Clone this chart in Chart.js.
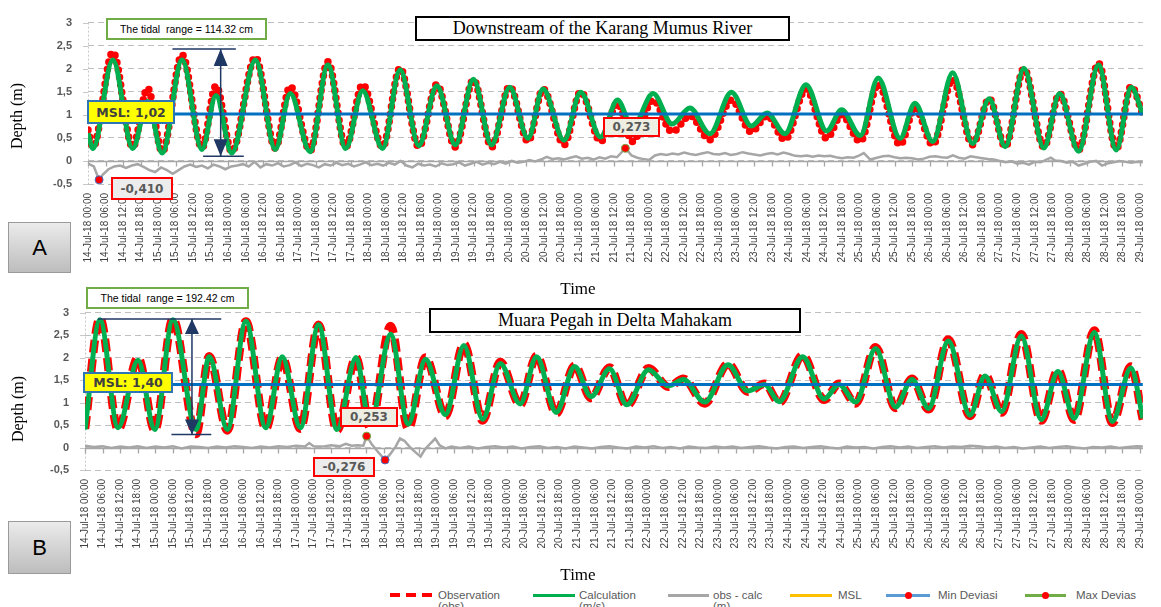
<!DOCTYPE html>
<html><head><meta charset="utf-8">
<script src="https://cdn.jsdelivr.net/npm/chart.js@4.4.1/dist/chart.umd.min.js"></script>
<style>
html,body{margin:0;padding:0;background:#fff;width:1161px;height:607px;overflow:hidden;position:relative;font-family:"Liberation Sans",Arial,sans-serif}
canvas{position:absolute;left:0}
#cA{top:0}
#cB{top:290px}
.box{position:absolute;box-sizing:border-box;display:flex;align-items:center;justify-content:center;white-space:pre;z-index:5}
.ttl{border:2px solid #000;background:#fff;font-family:"Liberation Serif",serif;font-size:18px;color:#000}
.tid{border:2px solid #70ad47;background:#fff;font-size:10.5px;color:#000}
.msl{border:2px solid #2e75b6;background:#ffff00;font-family:"DejaVu Sans",sans-serif;font-weight:bold;font-size:12.5px;color:#404040}
.val{border:2px solid #ff0000;background:#eeeee2;font-family:"DejaVu Sans",sans-serif;font-weight:bold;font-size:12px;color:#595959}
.pan{border:1px solid #9a9a9a;background:linear-gradient(#ebebeb,#bdbdbd);font-size:22px;color:#000}
.axt{position:absolute;font-family:"Liberation Serif",serif;color:#000;white-space:nowrap;z-index:4}
.lg{position:absolute;font-size:11.5px;line-height:11px;color:#595959;white-space:nowrap;top:590px}
.sw{position:absolute;top:594px;height:3px}
.dot{position:absolute;width:7px;height:7px;border-radius:50%;background:#ff0000;top:-2px}
</style>
</head>
<body>
<canvas id="cA" width="1161" height="300"></canvas>
<canvas id="cB" width="1161" height="296"></canvas>

<div class="box ttl" style="left:415px;top:16px;width:375px;height:25px">Downstream of the Karang Mumus River</div>
<div class="box tid" style="left:106px;top:18px;width:161px;height:22px">The tidal  range = 114.32 cm</div>
<div class="box msl" style="left:87px;top:100px;width:88px;height:24px">MSL: 1,02</div>
<div class="box val" style="left:111px;top:177px;width:62px;height:23px;background:#ececec">-0,410</div>
<div class="box val" style="left:603px;top:117px;width:57px;height:20px">0,273</div>
<div class="box pan" style="left:8px;top:222px;width:63px;height:51px">A</div>
<div class="axt" style="left:17px;top:116px;font-size:16px;transform:translate(-50%,-50%) rotate(-90deg)">Depth (m)</div>
<div class="axt" style="left:578px;top:289px;font-size:17px;transform:translate(-50%,-50%)">Time</div>

<div class="box ttl" style="left:429px;top:308px;width:372px;height:25px">Muara Pegah in Delta Mahakam</div>
<div class="box tid" style="left:86px;top:287px;width:163px;height:22px">The tidal  range = 192.42 cm</div>
<div class="box msl" style="left:83px;top:372px;width:90px;height:21px">MSL: 1,40</div>
<div class="box val" style="left:340px;top:407px;width:58px;height:20px">0,253</div>
<div class="box val" style="left:313px;top:457px;width:62px;height:20px;background:#ececec">-0,276</div>
<div class="box pan" style="left:8px;top:521px;width:63px;height:53px">B</div>
<div class="axt" style="left:18px;top:409px;font-size:16px;transform:translate(-50%,-50%) rotate(-90deg)">Depth (m)</div>
<div class="axt" style="left:578px;top:575px;font-size:17px;transform:translate(-50%,-50%)">Time</div>

<div class="sw" style="left:390px;width:43px;height:4px;top:593px;background:repeating-linear-gradient(90deg,#ff0000 0 10px,transparent 10px 16px)"></div>
<div class="lg" style="left:438px">Observation<br>(obs)</div>
<div class="sw" style="left:533px;width:42px;background:#00b050"></div>
<div class="lg" style="left:579px">Calculation<br>(m/s)</div>
<div class="sw" style="left:668px;width:41px;background:#a6a6a6"></div>
<div class="lg" style="left:713px">obs - calc<br>(m)</div>
<div class="sw" style="left:790px;width:42px;background:#ffc000"></div>
<div class="lg" style="left:838px">MSL</div>
<div class="sw" style="left:886px;width:44px;background:#5b9bd5"><div class="dot" style="left:19px"></div></div>
<div class="lg" style="left:938px">Min Deviasi</div>
<div class="sw" style="left:1025px;width:41px;background:#70ad47"><div class="dot" style="left:17px"></div></div>
<div class="lg" style="left:1076px">Max Devias</div>

<script>
// ---------- tick labels (every 6 hours) ----------
const tickLabels = [
'14-Jul-18 00:00','14-Jul-18 06:00','14-Jul-18 12:00','14-Jul-18 18:00',
'15-Jul-18 00:00','15-Jul-18 06:00','15-Jul-18 12:00','15-Jul-18 18:00',
'16-Jul-18 00:00','16-Jul-18 06:00','16-Jul-18 12:00','16-Jul-18 18:00',
'17-Jul-18 00:00','17-Jul-18 06:00','17-Jul-18 12:00','17-Jul-18 18:00',
'18-Jul-18 00:00','18-Jul-18 06:00','18-Jul-18 12:00','18-Jul-18 18:00',
'19-Jul-18 00:00','19-Jul-18 06:00','19-Jul-18 12:00','19-Jul-18 18:00',
'20-Jul-18 00:00','20-Jul-18 06:00','20-Jul-18 12:00','20-Jul-18 18:00',
'21-Jul-18 00:00','21-Jul-18 06:00','21-Jul-18 12:00','21-Jul-18 18:00',
'22-Jul-18 00:00','22-Jul-18 06:00','22-Jul-18 12:00','22-Jul-18 18:00',
'23-Jul-18 00:00','23-Jul-18 06:00','23-Jul-18 12:00','23-Jul-18 18:00',
'24-Jul-18 00:00','24-Jul-18 06:00','24-Jul-18 12:00','24-Jul-18 18:00',
'25-Jul-18 00:00','25-Jul-18 06:00','25-Jul-18 12:00','25-Jul-18 18:00',
'26-Jul-18 00:00','26-Jul-18 06:00','26-Jul-18 12:00','26-Jul-18 18:00',
'27-Jul-18 00:00','27-Jul-18 06:00','27-Jul-18 12:00','27-Jul-18 18:00',
'28-Jul-18 00:00','28-Jul-18 06:00','28-Jul-18 12:00','28-Jul-18 18:00',
'29-Jul-18 00:00'];

// ---------- Panel A: Downstream of the Karang Mumus River (hours from 14-Jul 00:00) ----------
const tideA_t = [0,1.7,8.5,15.3,20.4,25.4,32.2,39.0,43.8,49.2,57.3,64.1,69.2,76.0,82.1,88.2,94.0,100.8,106.8,113.2,119.4,125.7,131.9,138.1,144.3,150.6,155.7,162.9,168.6,175.4,181.2,186.3,193.4,199.9,206.0,212.8,220.2,227.0,232.4,238.5,245.7,252.8,257.9,264.3,270.4,277.9,283.0,289.1,295.9,302.7,308.4,313.9,320.3,327.1,332.5,339.0,345.8,351.9,357.0,361];
const calcA = [0.6,0.27,2.19,0.27,1.29,0.17,2.19,0.25,1.42,0.17,2.19,0.25,1.46,0.2,2.08,0.27,1.52,0.27,1.98,0.33,1.63,0.35,1.77,0.35,1.6,0.49,1.56,0.45,1.49,0.52,1.32,0.73,1.46,0.8,1.15,0.59,1.49,0.76,1.04,0.59,1.65,0.65,1.11,0.55,1.8,0.49,1.25,0.42,1.91,0.38,1.35,0.31,2.01,0.28,1.46,0.21,2.08,0.24,1.6,1.0];
const obsA = [0.67,0.3,2.36,0.3,1.58,0.2,2.3,0.28,1.63,0.2,2.25,0.28,1.62,0.22,2.15,0.3,1.66,0.3,2.02,0.3,1.66,0.3,1.76,0.3,1.62,0.42,1.56,0.35,1.5,0.42,1.25,0.42,1.32,0.63,0.98,0.46,1.32,0.63,0.98,0.46,1.56,0.49,1.0,0.42,1.67,0.35,1.15,0.35,1.77,0.35,1.35,0.31,2.0,0.3,1.46,0.24,2.12,0.26,1.62,1.0];
const diffA_t = [0,2,3.8,5,7,9,11,13,15,17,19,21,23,25,27,29,31,33,35,37,39,41,43,45,47,49,51,53,55,57,59,61,63,65,67,69,71,73,75,77,79,81,83,85,87,89,91,93,95,97,99,101,103,105,107,109,111,113,115,117,119,121,123,125,127,129,131,133,135,137,139,141,143,145,147,149,151,153,155,157,159,161,163,165,167,169,171,173,175,177,179,181,183.9,186,188,190,192,194,196,198,200,202,204,206,208,210,212,214,216,218,220,222,224,226,228,230,232,234,236,238,240,242,244,246,248,250,252,254,256,258,260,262,264,265.5,267.7,270,272,274,276,278,280,282,284,286,288,290,292,294,296,298,300,302,304,306,308,310,312,314,316,318,320,322,324,326,328,329.5,331,333,335,337,339,341,343,345,347,349,351,353,355,357,359,361];
const diffA = [-0.06,-0.12,-0.41,-0.3,-0.18,-0.12,-0.1,-0.15,-0.1,-0.07,-0.13,-0.2,-0.24,-0.14,-0.2,-0.28,-0.2,-0.12,-0.08,-0.13,-0.1,-0.16,-0.08,-0.12,-0.18,-0.12,-0.1,-0.07,-0.12,-0.02,-0.14,-0.07,-0.1,-0.05,-0.12,-0.09,-0.03,-0.11,-0.06,-0.09,-0.14,-0.07,-0.1,-0.04,-0.09,-0.06,-0.12,-0.08,-0.03,-0.09,-0.06,-0.1,-0.04,-0.08,0.0,-0.1,-0.14,-0.06,-0.1,-0.08,-0.12,-0.05,-0.09,-0.07,-0.03,-0.1,-0.06,-0.02,-0.08,-0.04,-0.07,-0.02,-0.06,0.0,-0.04,-0.02,0.02,-0.01,0.03,0.09,0.04,0.06,0.03,0.07,0.1,0.05,0.07,0.03,0.08,0.05,0.1,0.08,0.273,0.12,0.07,0.04,0.02,0.12,0.15,0.13,0.16,0.14,0.18,0.15,0.13,0.16,0.19,0.15,0.14,0.17,0.13,0.15,0.19,0.16,0.14,0.12,0.15,0.17,0.14,0.18,0.15,0.11,0.1,0.12,0.09,0.12,0.1,0.11,0.08,0.06,0.08,0.07,0.12,0.17,0.03,0.07,0.1,0.11,0.08,0.06,0.07,0.06,0.03,0.05,0.09,0.1,0.08,0.07,0.12,0.07,0.05,0.1,0.08,0.06,0.04,0.03,0.0,-0.03,-0.01,-0.06,-0.04,-0.08,-0.02,-0.03,0.03,0.07,0.01,0.0,-0.04,-0.02,-0.1,-0.06,-0.02,0.0,-0.1,-0.05,-0.03,0.0,-0.02,-0.04,-0.02,-0.03];
const mslA = [1.02, 1.02];
const minA_t = [3.8], minA = [-0.41];
const maxA_t = [183.9], maxA = [0.273];

// ---------- Panel B: Muara Pegah in Delta Mahakam ----------
const tideB_t = [0,5.1,11.3,18.1,23.8,30.0,37.9,42.4,48.6,54.9,61.7,67.3,73.5,79.7,86.0,92.5,97.3,104.3,110.3,116.2,123.0,129.3,135.7,141.7,148.5,154.1,160.8,167.1,172.7,179.0,184.9,192.3,199.1,204.2,211.5,219.4,226.2,231.9,236.9,244.9,252.2,257.3,263.0,269.8,276.6,282.2,287.9,294.6,302.0,307.1,312.8,319.5,326.3,332.0,337.6,344.4,350.6,356.9,361];
const calcB = [0.40,2.84,0.44,1.94,0.40,2.84,0.40,2.02,0.40,2.81,0.44,2.02,0.44,2.73,0.40,2.0,0.51,2.52,0.52,1.96,0.73,2.27,0.63,1.87,0.97,2.02,0.78,1.80,1.13,1.75,0.95,1.73,1.37,1.51,1.01,1.84,1.26,1.40,1.02,2.02,1.08,1.40,1.01,2.20,0.90,1.51,0.87,2.37,0.72,1.59,0.80,2.48,0.62,1.69,0.65,2.56,0.58,1.77,0.65];
const obsB = [0.42,2.87,0.40,2.0,0.38,2.86,0.30,2.03,0.38,2.8,0.42,2.0,0.42,2.73,0.38,2.0,0.44,2.70,0.42,2.0,0.7,2.3,0.6,1.9,0.95,2.04,0.76,1.82,1.1,1.78,0.93,1.76,1.35,1.53,0.98,1.86,1.24,1.42,1.0,2.05,1.06,1.42,0.98,2.23,0.88,1.53,0.85,2.4,0.7,1.62,0.78,2.52,0.6,1.72,0.62,2.6,0.55,1.8,0.62];
const diffB_t = [0,3,6,9,12,15,18,21,24,27,30,33,36,39,42,45,48,51,54,57,60,63,66,69,72,75,76.5,78,81,84,87,89,91,93,95,96.1,98,100,102.4,104,106,107.5,109,111,113,114.5,116,118,119.5,121,123,125,128,131,134,137,140,143,146,149,152,155,158,161,164,167,170,173,176,179,182,185,188,191,194,197,200,203,206,209,212,215,218,221,224,227,230,233,236,239,242,245,248,251,254,257,260,263,266,269,272,275,278,281,284,287,290,293,296,299,302,305,308,311,314,317,320,323,326,329,332,335,338,341,344,347,350,353,356,359,361];
const diffB = [0.04,0.01,0.03,-0.01,0.02,0.0,0.03,-0.01,0.02,0.0,0.03,-0.02,0.02,0.01,-0.01,0.02,0.0,0.03,0.01,-0.01,0.02,0.0,0.03,0.01,0.04,0.02,0.1,0.03,0.02,0.05,0.03,0.08,0.04,0.05,0.04,0.253,0.06,-0.1,-0.276,-0.16,0.02,0.2,0.15,0.0,-0.12,-0.2,-0.04,0.1,0.2,0.05,-0.02,0.02,-0.01,0.02,-0.02,0.01,0.03,0.0,0.02,-0.02,0.01,0.03,-0.01,0.01,-0.02,0.02,0.0,-0.02,0.01,0.03,0.0,-0.02,0.02,0.0,0.03,-0.01,0.01,-0.02,0.02,0.0,-0.01,0.02,0.0,0.02,-0.01,0.01,0.03,0.0,-0.02,0.01,0.02,-0.01,0.01,0.03,0.0,-0.02,0.02,0.0,0.01,-0.02,0.01,0.03,0.0,0.02,-0.01,0.01,0.03,0.0,0.02,0.01,0.04,0.03,0.0,0.02,-0.01,0.01,-0.02,0.0,0.02,-0.01,0.01,0.03,0.0,-0.02,0.01,0.0,0.02,-0.01,0.01,0.03,0.02];
const mslB = [1.40, 1.40];
const minB_t = [102.4], minB = [-0.276];
const maxB_t = [96.1], maxB = [0.253];

const mslT = [0, 361];

// ---------- helpers ----------
const pts = (t, v) => t.map((h, i) => ({x: h, y: v[i]}));

const decor = {
  id: 'decor',
  beforeDatasetsDraw(chart) {
    const {ctx, chartArea: a, scales: {x, y}} = chart;
    ctx.save();
    ctx.strokeStyle = '#c8c8c8'; ctx.lineWidth = 1; ctx.setLineDash([2, 2]);
    ctx.beginPath(); ctx.moveTo(a.left + 0.5, a.top); ctx.lineTo(a.left + 0.5, a.bottom); ctx.stroke();
    ctx.setLineDash([]);
    ctx.beginPath();
    y.ticks.forEach(t => { const py = Math.round(y.getPixelForValue(t.value)) + 0.5; ctx.moveTo(a.left - 5, py); ctx.lineTo(a.left, py); });
    ctx.stroke();
    const y0 = Math.round(y.getPixelForValue(0)) + 0.5;
    ctx.strokeStyle = '#a6a6a6'; ctx.lineWidth = 1.3;
    ctx.beginPath(); ctx.moveTo(a.left, y0); ctx.lineTo(a.right, y0);
    x.ticks.forEach(t => { const px = Math.round(x.getPixelForValue(t.value)) + 0.5; ctx.moveTo(px, y0); ctx.lineTo(px, y0 + 5); });
    ctx.stroke();
    ctx.restore();
  },
  afterDatasetsDraw(chart, args, o) {
    const a = o.arrow; if (!a) return;
    const {ctx, scales: {x, y}} = chart;
    const X = x.getPixelForValue(a.x), T = y.getPixelForValue(a.top), B = y.getPixelForValue(a.bottom);
    ctx.save();
    ctx.strokeStyle = '#1f3864'; ctx.fillStyle = '#1f3864'; ctx.lineWidth = 1.5;
    ctx.beginPath();
    ctx.moveTo(x.getPixelForValue(a.topFrom), T); ctx.lineTo(x.getPixelForValue(a.topTo), T);
    ctx.moveTo(x.getPixelForValue(a.botFrom), B); ctx.lineTo(x.getPixelForValue(a.botTo), B);
    ctx.moveTo(X, T); ctx.lineTo(X, B);
    ctx.stroke();
    ctx.beginPath();
    ctx.moveTo(X, T); ctx.lineTo(X - a.half, T + a.head); ctx.lineTo(X + a.half, T + a.head); ctx.closePath();
    ctx.moveTo(X, B); ctx.lineTo(X - a.half, B - a.head); ctx.lineTo(X + a.half, B - a.head); ctx.closePath();
    ctx.fill();
    ctx.restore();
  }
};

function build(id, d) {
  return new Chart(document.getElementById(id), {
    type: 'line',
    data: {datasets: [
      {label: 'Max Devias', data: pts(d.maxT, d.maxV), showLine: false, pointRadius: 4, pointBackgroundColor: '#ff0000', pointBorderColor: '#70ad47', pointBorderWidth: 1},
      {label: 'Min Deviasi', data: pts(d.minT, d.minV), showLine: false, pointRadius: 4, pointBackgroundColor: '#ff0000', pointBorderColor: '#4472c4', pointBorderWidth: 1},
      {label: 'MSL', data: pts(mslT, d.msl), borderColor: '#0070c0', borderWidth: 3, pointRadius: 0},
      {label: 'obs - calc', data: pts(d.diffT, d.diff), borderColor: '#a6a6a6', borderWidth: 2.5, pointRadius: 0, tension: 0},
      {label: 'Calculation (m/s)', data: pts(d.tideT, d.calc), borderColor: '#00b050', borderWidth: 5, pointRadius: 0, cubicInterpolationMode: 'monotone'},
      {label: 'Observation (obs)', data: pts(d.tideT, d.obs), borderColor: '#ff0000', borderWidth: d.obsW, borderDash: d.dash, borderCapStyle: d.cap, pointRadius: 0, cubicInterpolationMode: 'monotone'}
    ]},
    options: {
      responsive: false, animation: false,
      layout: {padding: {top: d.padTop, left: 5, right: d.padRight, bottom: 0}},
      plugins: {legend: {display: false}, tooltip: {enabled: false}, decor: {arrow: d.arrow}},
      scales: {
        x: {type: 'linear', min: 0, max: 361,
            afterFit: s => { s.height = 116; },
            grid: {display: false, drawTicks: false}, border: {display: false},
            ticks: {stepSize: 6, autoSkip: false, includeBounds: false, minRotation: 90, maxRotation: 90, padding: 9,
                    color: '#404040', font: {family: 'Liberation Sans', size: 10},
                    callback: v => { const i = Math.round(v / 6); return Math.abs(v - i * 6) < 1e-6 ? (tickLabels[i] || '') : ''; }}},
        y: {min: -0.5, max: 3,
            afterFit: s => { s.width = d.yW; },
            grid: {color: '#bfbfbf', lineWidth: 1, drawTicks: false}, border: {display: false, dash: [6, 4]},
            ticks: {stepSize: 0.5, padding: 16, color: '#595959', font: {family: 'Liberation Sans', size: 11, weight: 'bold'},
                    callback: v => String(v).replace('.', ',')}}
      }
    },
    plugins: [decor]
  });
}

build('cA', {
  tideT: tideA_t, calc: calcA, obs: obsA, diffT: diffA_t, diff: diffA, msl: mslA,
  minT: minA_t, minV: minA, maxT: maxA_t, maxV: maxA,
  obsW: 7.5, dash: [0, 7.5], cap: 'round',
  padTop: 16, padRight: 9, yW: 83,
  arrow: {x: 45.4, top: 2.43, bottom: 0.1, topFrom: 28.9, topTo: 50.6, botFrom: 39.4, botTo: 53.3, head: 17, half: 7}
});
build('cB', {
  tideT: tideB_t, calc: calcB, obs: obsB, diffT: diffB_t, diff: diffB, msl: mslB,
  minT: minB_t, minV: minB, maxT: maxB_t, maxV: maxB,
  obsW: 8.5, dash: [13, 6], cap: 'butt',
  padTop: 18, padRight: 12, yW: 80,
  arrow: {x: 36.5, top: 2.86, bottom: 0.29, topFrom: 4.4, topTo: 46.5, botFrom: 29.5, botTo: 43.1, head: 15, half: 7}
});
</script>
</body></html>
